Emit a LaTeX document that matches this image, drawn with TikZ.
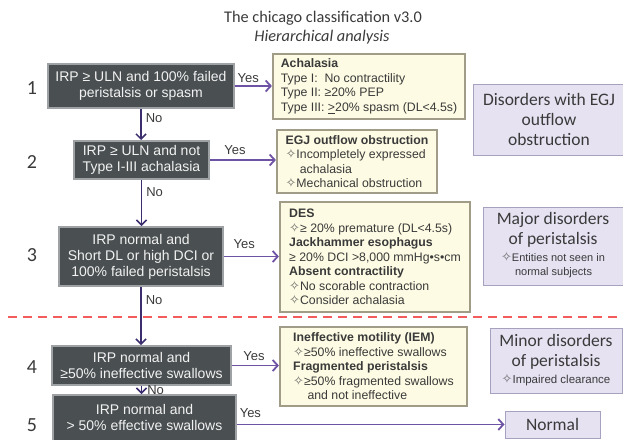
\documentclass[tikz,border=0pt]{standalone}
\usepackage{fontspec}
\setmainfont{Liberation Sans}
\newfontfamily\calibri{Carlito}
\newfontfamily\dejavu{DejaVu Sans}
\usetikzlibrary{arrows.meta, positioning}
\definecolor{cdec}{HTML}{4A4F51}
\definecolor{cdecrim}{HTML}{9EA2A4}
\definecolor{cres}{HTML}{FDFBE3}
\definecolor{cresrim}{HTML}{A19C88}
\definecolor{ccat}{HTML}{E6E2F2}
\definecolor{ccatrim}{HTML}{A5A1BF}
\definecolor{cyes}{HTML}{6E52A3}
\definecolor{cno}{HTML}{3B2D6E}
\definecolor{ccut}{HTML}{F25C5C}
\definecolor{ctext}{HTML}{3A3A3A}
\newcommand{\dmd}{{\dejavu\fontsize{13}{11.5}\selectfont\color{black!60}✧}}
\tikzset{
  every picture/.style={line width=1.2pt},
  dec/.style={draw=cdecrim, fill=cdec, line width=2pt, text=white!95!black, align=center,
    inner sep=2pt, font=\fontsize{14}{16}\selectfont},
  res/.style={draw=cresrim, fill=cres, line width=2.2pt, text=ctext, align=left,
    inner sep=3pt, font=\fontsize{12.3}{14.5}\selectfont},
  cat/.style={draw=ccatrim, fill=ccat, line width=1pt, text=ctext, align=center,
    inner sep=2pt, font=\calibri\fontsize{17.5}{20}\selectfont},
  yes/.style={-{Straight Barb[length=5pt, width=11pt]}, draw=cyes, line width=1.8pt},
  no/.style={-{Straight Barb[length=5pt, width=10pt]}, draw=cno, line width=1.5pt},
  lbl/.style={font=\fontsize{13}{15}\selectfont, text=ctext, inner sep=2pt},
  num/.style={font=\calibri\fontsize{20}{24}\selectfont, text=ctext},
  title/.style={font=\calibri\fontsize{16.3}{19}\selectfont, text=ctext},
  cut/.style={draw=ccut, line width=1.5pt, dash pattern=on 9pt off 6pt},
}

\begin{document}
\begin{tikzpicture}[x=1pt, y=-1pt]
  \useasboundingbox (0,0) rectangle (623,439);
  \node[title] (ttl) at (323,18) {The chicago classification v3.0};
  \node[title, font=\calibri\itshape\fontsize{16.3}{19}\selectfont] (sub) at (322,37) {Hierarchical analysis};
  % decision steps
  \node[dec, minimum width=186pt, minimum height=44pt] (d1) at (141,86) {IRP ≥ ULN and 100\% failed\\peristalsis or spasm};
  \node[dec, minimum width=135pt, minimum height=38pt] (d2) at (141.5,160) {IRP ≥ ULN and not\\Type I-III achalasia};
  \node[dec, minimum width=164pt, minimum height=59pt] (d3) at (141,256.5) {IRP normal and\\Short DL or high DCI or\\100\% failed peristalsis};
  \node[dec, minimum width=179pt, minimum height=39pt] (d4) at (141.5,365.5) {IRP normal and\\≥50\% ineffective swallows};
  \node[dec, minimum width=183pt, minimum height=52pt, text depth=8pt] (d5) at (144.5,421) {IRP normal and\\> 50\% effective swallows};
  \foreach \k/\y in {1/88, 2/162, 3/255, 4/367, 5/425}
    \node[num] (n\k) at (32,\y) {\k};
  % diagnoses
  \node[res, minimum width=192pt, minimum height=65pt] (r1) at (369,86.5) {\textbf{Achalasia}\\Type I:\ \ No contractility\\Type II: ≥20\% PEP\\Type III: \underline{>}20\% spasm (DL<4.5s)};
  \node[res, minimum width=160pt, minimum height=63pt] (r2) at (357,161.5) {\textbf{EGJ outflow obstruction}\\\dmd Incompletely expressed\\\phantom{\dmd} achalasia\\\dmd Mechanical obstruction};
  \node[res, minimum width=190pt, minimum height=110pt] (r3) at (375,257) {\textbf{DES}\\\dmd ≥ 20\% premature (DL<4.5s)\\\textbf{Jackhammer esophagus}\\≥ 20\% DCI >8,000 mmHg•s•cm\\\textbf{Absent contractility}\\\dmd No scorable contraction\\\dmd Consider achalasia};
  \node[res, minimum width=187pt, minimum height=79pt] (r4) at (373.5,366.5) {\textbf{Ineffective motility (IEM)}\\\dmd ≥50\% ineffective swallows\\\textbf{Fragmented peristalsis}\\\dmd ≥50\% fragmented swallows\\\phantom{\dmd} and not ineffective};
  % categories
  \node[cat, minimum width=152pt, minimum height=71pt] (c1) at (549,119.5) {Disorders with EGJ\\outflow\\obstruction};
  \node[cat, minimum width=140pt, minimum height=78pt] (c2) at (553,246) {Major disorders\\of peristalsis\\[-3pt]{\rmfamily\fontsize{11}{13.5}\selectfont\begin{tabular}[t]{@{}l@{}}\dmd Entities not seen in\\\phantom{\dmd} normal subjects\end{tabular}}};
  \node[cat, minimum width=132pt, minimum height=65pt] (c3) at (556,360.5) {Minor disorders\\of peristalsis\\[-3pt]{\rmfamily\fontsize{11.5}{14}\selectfont\dmd Impaired clearance}};
  \node[cat, minimum width=95pt, minimum height=27pt] (c4) at (552.5,424.5) {Normal};
  % yes branches
  \draw[yes] (d1.east) -- (d1.east -| r1.west) node[pos=0.36, above, lbl] {Yes};
  \draw[yes] (d2.east) -- (d2.east -| r2.west) node[pos=0.38, above, lbl, yshift=2pt] {Yes};
  \draw[yes] (d3.east) -- (d3.east -| r3.west) node[pos=0.37, above, lbl, yshift=5pt] {Yes};
  \draw[yes] (d4.east) -- (d4.east -| r4.west) node[pos=0.47, above, lbl, yshift=2pt] {Yes};
  \draw[yes] (c4.west -| d5.east) -- (c4.west) node[pos=0.05, above, lbl, yshift=4pt] {Yes};
  % no branches
  \draw[no] (d1.south) -- (d1.south |- d2.north) node[pos=0.3, right, lbl, xshift=2pt] {No};
  \draw[no] (d2.south) -- (d2.south |- d3.north) node[pos=0.27, right, lbl, xshift=2pt] {No};
  \draw[no] (d3.south) -- (d3.south |- d4.north) node[pos=0.22, right, lbl, xshift=2pt] {No};
  \draw[no] (d4.south) -- (d4.south |- d5.north) node[pos=0.45, right, lbl, xshift=3pt, inner ysep=0pt] {No};
  % divide major / minor
  \draw[cut] (8,317) -- (623,317);
\end{tikzpicture}
\end{document}
